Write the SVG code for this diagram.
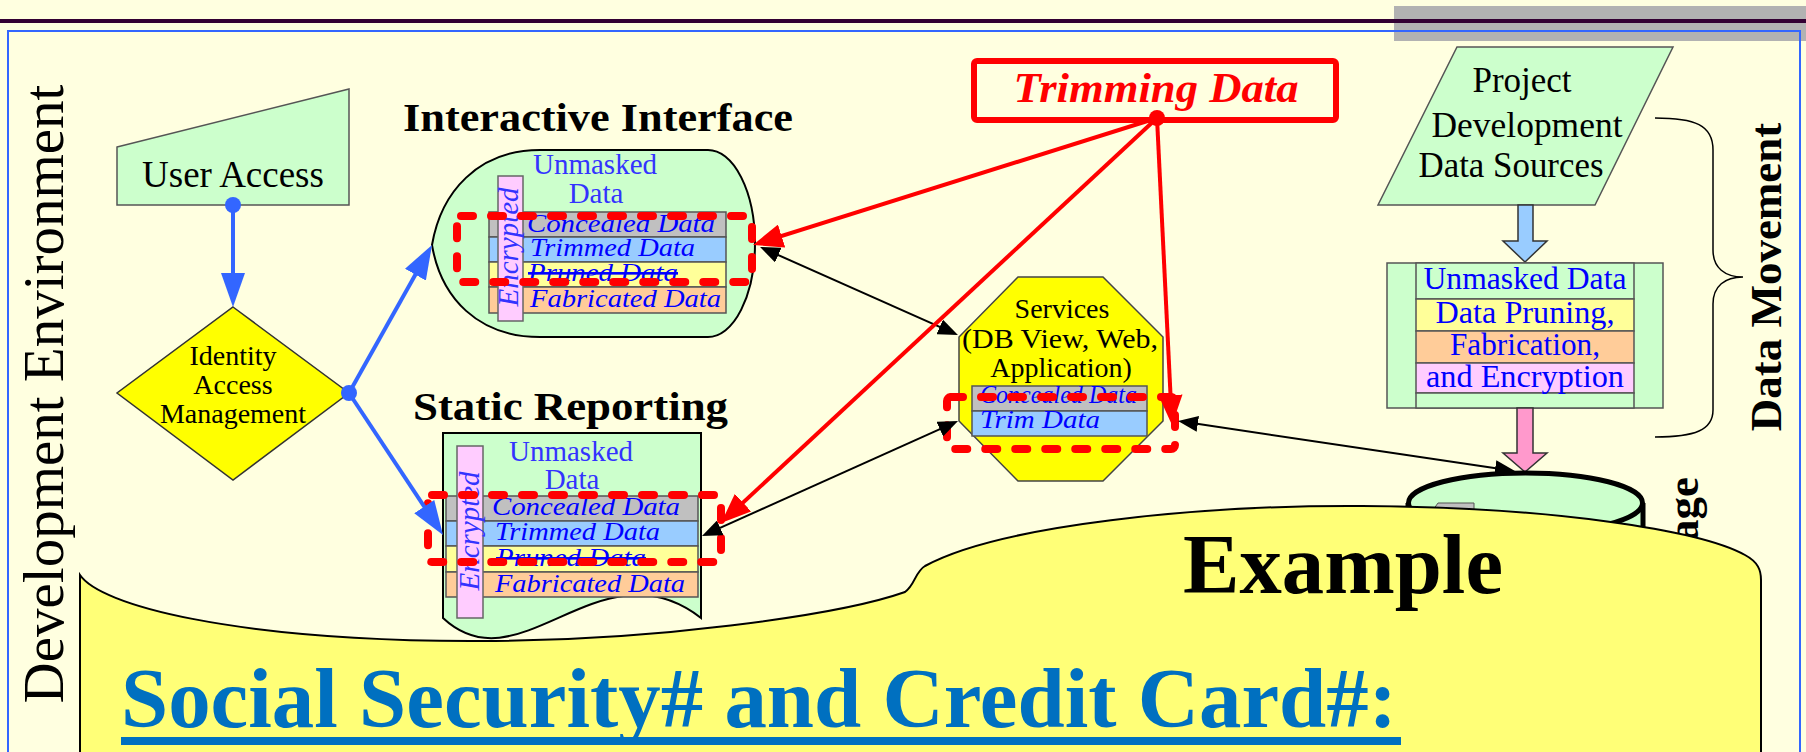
<svg xmlns="http://www.w3.org/2000/svg" width="1806" height="752" viewBox="0 0 1806 752">
  <style>
    text { font-family: "Liberation Serif", "Times New Roman", serif; }
    .pale { fill: #CCFFCC; stroke: #555; stroke-width: 1.5; }
    .lbl { font-size: 28px; fill: #000; text-anchor: middle; }
    .row { font-size: 26px; font-style: italic; fill: #0000FF; }
    .unm { font-size: 29px; fill: #3333FF; text-anchor: middle; }
    .enc { font-size: 29px; font-style: italic; fill: #3333FF; text-anchor: middle; }
    .cell { stroke: #555; stroke-width: 1.5; }
    .gray { fill: #C0C0C0; }
    .lblue { fill: #99CCFF; }
    .lyel { fill: #FFFF99; }
    .peach { fill: #FFCC99; }
    .pink { fill: #FFCCFF; }
    .redbox { fill: none; stroke: #FF0000; stroke-width: 8; stroke-dasharray: 12 18; stroke-linecap: round; stroke-linejoin: round; }
    .title { font-size: 40px; font-weight: bold; fill: #000; }
    .mv { font-size: 31px; fill: #0000FF; text-anchor: middle; }
    .blue-ln { stroke: #3366FF; stroke-width: 4; fill: none; }
    .red-ln { stroke: #FF0000; stroke-width: 4; fill: none; }
    .blk-ln { stroke: #000; stroke-width: 2; fill: none; }
  </style>
  <defs>
    <marker id="ahBlue" viewBox="0 0 34 24" markerWidth="34" markerHeight="24" refX="26" refY="12" orient="auto" markerUnits="userSpaceOnUse">
      <path d="M0,0 L34,12 L0,24 Z" fill="#3366FF"/>
    </marker>
    <marker id="ahRed" viewBox="0 0 30 24" markerWidth="30" markerHeight="24" refX="22" refY="12" orient="auto" markerUnits="userSpaceOnUse">
      <path d="M0,0 L30,12 L0,24 Z" fill="#FF0000"/>
    </marker>
    <marker id="ahBlk" viewBox="0 0 20 16" markerWidth="20" markerHeight="16" refX="16" refY="8" orient="auto-start-reverse" markerUnits="userSpaceOnUse">
      <path d="M0,0 L20,8 L0,16 Z" fill="#000"/>
    </marker>
  </defs>

  <!-- page background and header bars -->
  <rect x="0" y="0" width="1806" height="752" fill="#FFFFE0"/>
  <rect x="1394" y="6" width="412" height="35" fill="#B2B2B2"/>
  <rect x="0" y="19" width="1806" height="4" fill="#330033"/>
  <rect x="8" y="31" width="1792" height="740" fill="none" stroke="#3366FF" stroke-width="2"/>

  <text transform="translate(63,394) rotate(-90)" font-size="57" text-anchor="middle" fill="#000">Development Environment</text>

  <!-- User Access -->
  <g id="user-access">
    <polygon class="pale" points="117,147 349,89 349,205 117,205"/>
    <text x="233" y="187" font-size="37" text-anchor="middle" fill="#000">User Access</text>
  </g>

  <!-- Identity Access Management -->
  <g id="iam">
    <polygon points="233,307 349,393 233,480 117,393" fill="#FFFF00" stroke="#333" stroke-width="1.5"/>
    <text class="lbl" x="233" y="365">Identity</text>
    <text class="lbl" x="233" y="394">Access</text>
    <text class="lbl" x="233" y="423">Management</text>
  </g>

  <!-- Interactive Interface -->
  <g id="interactive">
    <text class="title" x="403" y="131" textLength="390" lengthAdjust="spacingAndGlyphs">Interactive Interface</text>
    <path d="M432,245 C441,192 478,150 540,150 L708,150 A47,93.5 0 0 1 708,337 L540,337 C478,337 441,298 432,245 Z" fill="#CCFFCC" stroke="#000" stroke-width="2"/>
    <text class="unm" x="595" y="174">Unmasked</text>
    <text class="unm" x="596" y="203">Data</text>
    <rect class="cell gray" x="489" y="212" width="237" height="25"/>
    <rect class="cell lblue" x="489" y="237" width="237" height="25"/>
    <rect class="cell lyel" x="489" y="262" width="237" height="25"/>
    <rect class="cell peach" x="489" y="287" width="237" height="26"/>
    <text class="row" x="527" y="232" textLength="188" lengthAdjust="spacingAndGlyphs">Concealed Data</text>
    <text class="row" x="530" y="256" textLength="165" lengthAdjust="spacingAndGlyphs">Trimmed Data</text>
    <text class="row" x="528" y="281" textLength="150" lengthAdjust="spacingAndGlyphs" text-decoration="line-through">Pruned Data</text>
    <text class="row" x="530" y="307" textLength="191" lengthAdjust="spacingAndGlyphs">Fabricated Data</text>
    <rect x="498" y="176" width="25" height="145" fill="#FFCCFF" stroke="#666" stroke-width="1.5"/>
    <text class="enc" transform="translate(518,247) rotate(-90)">Encrypted</text>
    <rect class="redbox" x="457" y="216" width="295" height="66" rx="4"/>
  </g>

  <!-- Services -->
  <g id="services">
    <polygon points="1018,277 1103,277 1163,337 1163,421 1103,481 1018,481 959,421 959,337" fill="#FFFF00" stroke="#444" stroke-width="1.5"/>
    <text class="lbl" x="1062" y="318">Services</text>
    <text class="lbl" x="1060" y="348" textLength="196" lengthAdjust="spacingAndGlyphs">(DB View, Web,</text>
    <text class="lbl" x="1061" y="377">Application)</text>
    <rect class="cell gray" x="972" y="386" width="175" height="25"/>
    <rect class="cell lblue" x="972" y="411" width="175" height="25"/>
    <text class="row" x="980" y="403" font-size="24" textLength="157" lengthAdjust="spacingAndGlyphs">Concealed Data</text>
    <text class="row" x="980" y="428" font-size="24" textLength="120" lengthAdjust="spacingAndGlyphs">Trim Data</text>
    <rect class="redbox" x="947" y="397" width="228" height="52" rx="4"/>
  </g>

  <!-- Trimming Data -->
  <g id="trimming">
    <rect x="974" y="61" width="362" height="59" rx="3" fill="#FFFFE0" stroke="#FF0000" stroke-width="6"/>
    <text x="1156" y="102" font-size="42" font-weight="bold" font-style="italic" fill="#FF0000" text-anchor="middle" textLength="285" lengthAdjust="spacingAndGlyphs">Trimming Data</text>
  </g>

  <!-- Project Development Data Sources -->
  <g id="sources">
    <polygon class="pale" points="1457,47 1673,47 1595,205 1378,205"/>
    <text x="1522" y="92" font-size="35" text-anchor="middle" fill="#000">Project</text>
    <text x="1527" y="137" font-size="35" text-anchor="middle" fill="#000" textLength="191" lengthAdjust="spacingAndGlyphs">Development</text>
    <text x="1511" y="177" font-size="35" text-anchor="middle" fill="#000" textLength="185" lengthAdjust="spacingAndGlyphs">Data Sources</text>
  </g>

  <!-- Data movement processing block -->
  <g id="movement">
    <polygon points="1518,205 1533,205 1533,241 1547,241 1525,262 1503,241 1518,241" fill="#99CCFF" stroke="#333" stroke-width="1.5"/>
    <rect class="pale" x="1387" y="263" width="276" height="145"/>
    <rect class="cell" x="1416" y="263" width="218" height="36" fill="#CCFFCC"/>
    <rect class="cell lyel" x="1416" y="299" width="218" height="32"/>
    <rect class="cell peach" x="1416" y="331" width="218" height="32"/>
    <rect class="cell pink" x="1416" y="363" width="218" height="30"/>
    <rect class="cell" x="1416" y="393" width="218" height="15" fill="#CCFFCC"/>
    <text class="mv" x="1525" y="289" textLength="203" lengthAdjust="spacingAndGlyphs">Unmasked Data</text>
    <text class="mv" x="1525" y="323" textLength="179" lengthAdjust="spacingAndGlyphs">Data Pruning,</text>
    <text class="mv" x="1525" y="355" textLength="150" lengthAdjust="spacingAndGlyphs">Fabrication,</text>
    <text class="mv" x="1525" y="387" textLength="198" lengthAdjust="spacingAndGlyphs">and Encryption</text>
    <polygon points="1517,408 1533,408 1533,453 1547,453 1525,472 1503,453 1517,453" fill="#FF99CC" stroke="#333" stroke-width="1.5"/>
    <path d="M1655,118 C1695,118 1713,125 1713,150 L1713,250 C1713,268 1725,277 1743,277 C1725,277 1713,286 1713,304 L1713,410 C1713,430 1695,437 1655,437" fill="none" stroke="#000" stroke-width="1.5"/>
    <text transform="translate(1781,277) rotate(-90)" font-size="45" font-weight="bold" text-anchor="middle" fill="#000">Data Movement</text>
  </g>

  <!-- Storage cylinder -->
  <g id="storage">
    <path d="M1408,503 L1408,700 L1643,700 L1643,503" fill="#CCFFCC" stroke="#000" stroke-width="5"/>
    <ellipse cx="1525.5" cy="503" rx="117" ry="30" fill="#CCFFCC" stroke="#000" stroke-width="5"/>
    <polygon points="1433,510 1438,503 1474,503 1474,510" fill="#C0C0C0" stroke="#555" stroke-width="1"/>
    <text transform="translate(1698,477) rotate(-90)" font-size="45" font-weight="bold" text-anchor="end" fill="#000">Storage</text>
  </g>

  <!-- Example callout -->
  <g id="example">
    <path d="M80,760 L80,575 C100,605 230,640 470,641 C650,642 840,615 905,592 C915,585 915,572 925,566 C1000,525 1200,505 1362,506 C1550,507 1700,530 1745,555 C1758,562 1761,570 1761,580 L1761,760 Z" fill="#FFFF77" stroke="#000" stroke-width="2"/>
    <text x="1343" y="593" font-size="85" font-weight="bold" text-anchor="middle" fill="#000" textLength="320" lengthAdjust="spacingAndGlyphs">Example</text>
    <text x="121" y="727" font-size="85" font-weight="bold" fill="#0070C0" textLength="1276" lengthAdjust="spacingAndGlyphs">Social Security# and Credit Card#:</text>
    <rect x="121" y="737" width="1280" height="8" fill="#0070C0"/>
  </g>

  <!-- Static Reporting -->
  <g id="static">
    <text class="title" x="413" y="420" font-size="42" textLength="315" lengthAdjust="spacingAndGlyphs">Static Reporting</text>
    <path d="M443,433 L701,433 L701,618 C600,540 520,690 443,618 Z" fill="#CCFFCC" stroke="#000" stroke-width="2"/>
    <text class="unm" x="571" y="461">Unmasked</text>
    <text class="unm" x="572" y="489">Data</text>
    <rect class="cell gray" x="446" y="496" width="252" height="25"/>
    <rect class="cell lblue" x="446" y="521" width="252" height="25"/>
    <rect class="cell lyel" x="446" y="546" width="252" height="26"/>
    <rect class="cell peach" x="446" y="572" width="252" height="25"/>
    <text class="row" x="492" y="515" textLength="188" lengthAdjust="spacingAndGlyphs">Concealed Data</text>
    <text class="row" x="495" y="540" textLength="165" lengthAdjust="spacingAndGlyphs">Trimmed Data</text>
    <text class="row" x="496" y="566" textLength="150" lengthAdjust="spacingAndGlyphs" text-decoration="line-through">Pruned Data</text>
    <text class="row" x="495" y="592" textLength="190" lengthAdjust="spacingAndGlyphs">Fabricated Data</text>
    <rect x="457" y="446" width="26" height="172" fill="#FFCCFF" stroke="#666" stroke-width="1.5"/>
    <text class="enc" transform="translate(479,531) rotate(-90)">Encrypted</text>
    <rect class="redbox" x="428" y="495" width="293" height="67" rx="4"/>
  </g>

  <!-- connectors -->
  <g id="connectors">
    <line class="blue-ln" x1="233" y1="205" x2="233" y2="299" marker-end="url(#ahBlue)"/>
    <line class="blue-ln" x1="349" y1="393" x2="428.1" y2="252" marker-end="url(#ahBlue)"/>
    <line class="blue-ln" x1="349" y1="393" x2="438.6" y2="528.3" marker-end="url(#ahBlue)"/>
    <circle cx="233" cy="205" r="8" fill="#3366FF"/>
    <circle cx="349" cy="393" r="8" fill="#3366FF"/>

    <line class="blk-ln" x1="763.7" y1="248.6" x2="954.3" y2="333.4" marker-start="url(#ahBlk)" marker-end="url(#ahBlk)"/>
    <line class="blk-ln" x1="705.6" y1="534.4" x2="954.4" y2="422.6" marker-start="url(#ahBlk)" marker-end="url(#ahBlk)"/>
    <line class="blk-ln" x1="1182" y1="421.6" x2="1511" y2="470.4" marker-start="url(#ahBlk)" marker-end="url(#ahBlk)"/>

    <line class="red-ln" x1="1157" y1="118" x2="760.6" y2="242.6" marker-end="url(#ahRed)"/>
    <line class="red-ln" x1="1157" y1="118" x2="726.9" y2="517.6" marker-end="url(#ahRed)"/>
    <line class="red-ln" x1="1157" y1="118" x2="1171.6" y2="417" marker-end="url(#ahRed)"/>
    <circle cx="1157" cy="118" r="8" fill="#FF0000"/>
  </g>
</svg>
